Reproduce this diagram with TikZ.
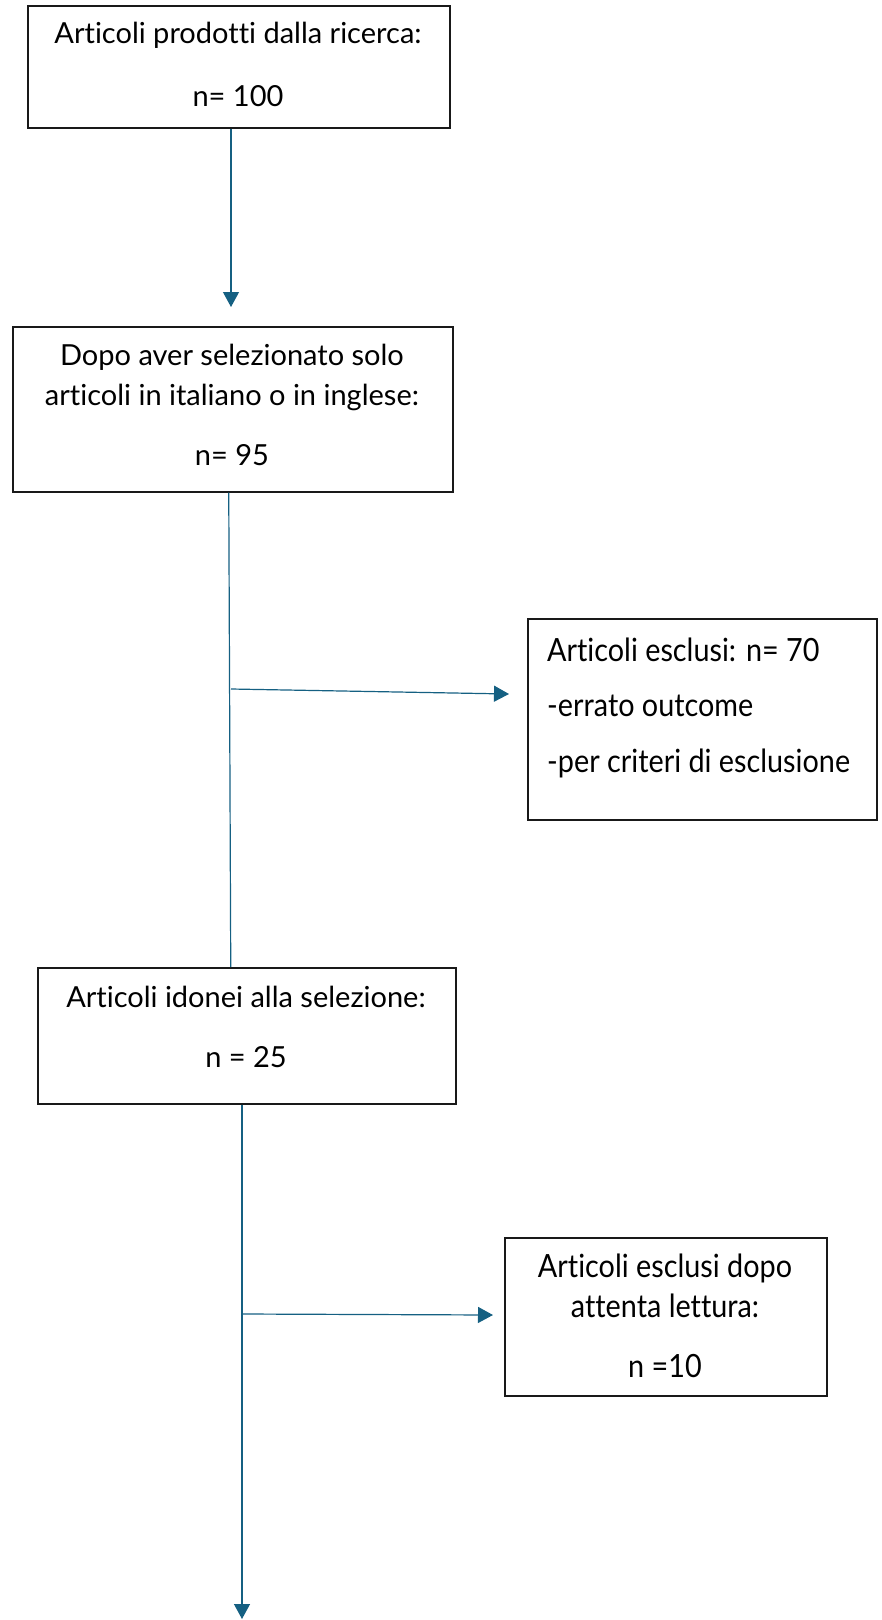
\documentclass[tikz,border=0pt]{standalone}
\usepackage{fontspec}
\setmainfont{Lato}[Ligatures={NoCommon}]
\newfontfamily\narrowfont{Lato}[FakeStretch=0.9,Ligatures={NoCommon}]
\usetikzlibrary{arrows.meta}
\definecolor{accent}{HTML}{156082}
\tikzset{
  box/.style={draw=black!90, line width=1.5pt, fill=none, inner sep=0pt, anchor=north west},
  txt/.style={inner sep=0pt, font=\fontsize{29}{34}\selectfont, text=black},
  ntxt/.style={inner sep=0pt, font=\narrowfont\fontsize{32}{38}\selectfont, text=black},
  link/.style={draw=accent, line width=1.2pt},
  conn/.style={link, -{Triangle[length=15pt,width=16pt]}}
}
\begin{document}
\begin{tikzpicture}[x=1pt,y=-1pt]
\useasboundingbox (0,0) rectangle (881,1620);
% boxes
\node[box, minimum width=422pt, minimum height=122pt] (b1) at (27,5) {};
\node[box, minimum width=440pt, minimum height=165pt] (b2) at (12,326) {};
\node[box, minimum width=349pt, minimum height=201pt] (b3) at (527,618) {};
\node[box, minimum width=418pt, minimum height=136pt] (b4) at (37,967) {};
\node[box, minimum width=322pt, minimum height=158pt] (b5) at (504,1237) {};
% texts
\node[txt] (b1l1) at (238,35) {Articoli prodotti dalla ricerca:};
\node[txt] (b1l2) at (238,96) {n= 100};
\node[txt] (b2l1) at (232,357) {Dopo aver selezionato solo};
\node[txt] (b2l2) at (232,397) {articoli in italiano o in inglese:};
\node[txt] (b2l3) at (232,455) {n= 95};
\node[ntxt, anchor=west] (b3l1) at (547,650) {Articoli esclusi: n= 70};
\node[ntxt, anchor=west] (b3l2) at (547,706) {-errato outcome};
\node[ntxt, anchor=west] (b3l3) at (547,763) {-per criteri di esclusione};
\node[txt] (b4l1) at (246,997) {Articoli idonei alla selezione:};
\node[txt] (b4l2) at (246,1057) {n = 25};
\node[ntxt] (b5l1) at (665,1268) {Articoli esclusi dopo};
\node[ntxt] (b5l2) at (665,1306) {attenta lettura:};
\node[ntxt] (b5l3) at (665,1366) {n =10};
% connector ends
\coordinate (t1) at (231,307);
\coordinate (j1) at (231,689);
\coordinate (e1) at (509,694);
\coordinate (j2) at (243,1314);
\coordinate (e2) at (493,1315);
\coordinate (t2) at (242,1619);
% connectors
\draw[conn] (b1.south -| t1) -- (t1);
\draw[link] ([xshift=-4pt]b2.south) -- ([xshift=-16pt]b4.north);
\draw[conn] (j1) -- (e1);
\draw[conn] (b4.south -| t2) -- (t2);
\draw[conn] (j2) -- (e2);
\end{tikzpicture}
\end{document}
